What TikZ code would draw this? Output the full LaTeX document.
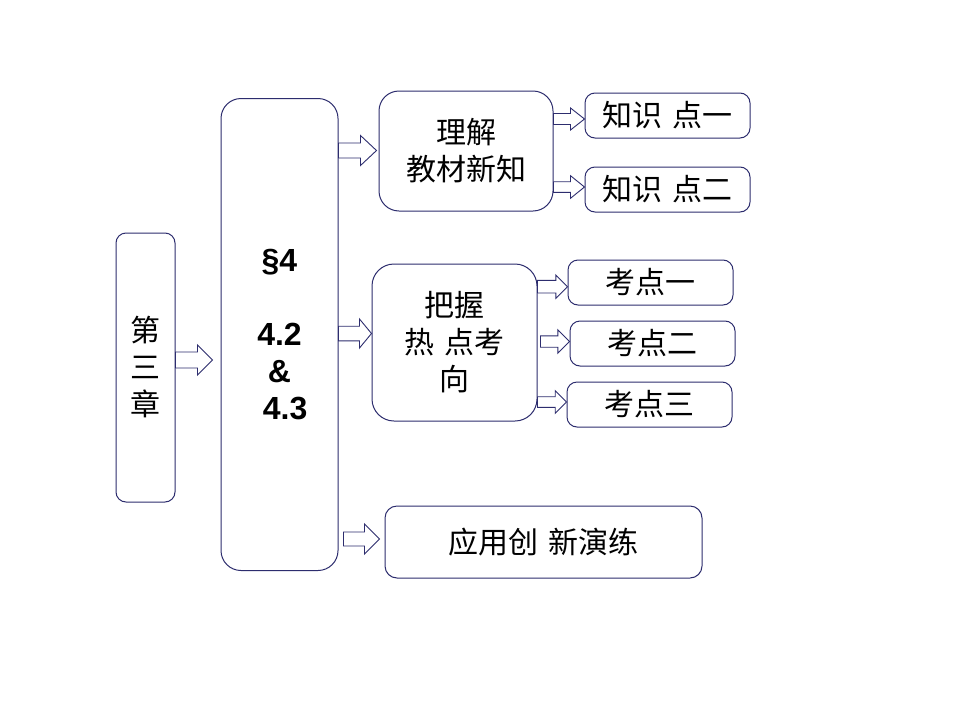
\documentclass[tikz,border=0pt]{standalone}
\usepackage{fontspec}
\setmainfont{Liberation Sans}
\newfontfamily\cjk{Noto Sans CJK SC}
\usetikzlibrary{calc}
\definecolor{navy}{RGB}{45,45,110}
\newcommand\cjkgap{\hspace{0.35em}}
\tikzset{
  box/.style={draw=navy, line width=1pt, inner sep=0pt, align=center, font=\cjk\fontsize{30}{37}\selectfont},
  harrowstyle/.style={draw=navy, line width=0.9pt, fill=white, line join=miter}
}
% start, tip, y centre (px), half shaft, half head, head length
\newcommand\harrow[6]{%
  \draw[harrowstyle] let \p1=#1, \p2=#2 in
   (\x1,{-(#3+#4)*1pt}) -- ({\x2-#6*1pt},{-(#3+#4)*1pt}) -- ({\x2-#6*1pt},{-(#3+#5)*1pt})
   -- (\x2,{-#3*1pt}) -- ({\x2-#6*1pt},{-(#3-#5)*1pt}) -- ({\x2-#6*1pt},{-(#3-#4)*1pt})
   -- (\x1,{-(#3-#4)*1pt}) -- cycle;}
\begin{document}
\begin{tikzpicture}[x=1pt,y=-1pt]
\useasboundingbox[fill=white] (0,0) rectangle (960,720);
% boxes
\node[box, rounded corners=10pt, minimum width=59pt, minimum height=269pt] (ch3) at (145.5,367.5) {第\\三\\章};
\node[box, rounded corners=20pt, minimum width=117pt, minimum height=472pt,
      font=\bfseries\fontsize{32}{37}\selectfont] (s4) at (279.5,334.5) {§4\\[37pt]4.2\\\&\\\hspace{0.35em}4.3};
\node[box, rounded corners=20pt, minimum width=174pt, minimum height=120pt] (li) at (466,151) {理解\\教材新知};
\node[box, rounded corners=10pt, minimum width=165pt, minimum height=45pt] (k1) at (667.5,115.5) {知识\cjkgap 点一};
\node[box, rounded corners=10pt, minimum width=165pt, minimum height=45pt] (k2) at (667.5,189.5) {知识\cjkgap 点二};
\node[box, rounded corners=22pt, minimum width=165pt, minimum height=157pt] (bw) at (454.5,342.5) {把握\\热\cjkgap 点考\\向};
\node[box, rounded corners=10pt, minimum width=165pt, minimum height=45pt] (d1) at (650.5,282.5) {考点一};
\node[box, rounded corners=10pt, minimum width=165pt, minimum height=45pt] (d2) at (652.5,343.5) {考点二};
\node[box, rounded corners=10pt, minimum width=165pt, minimum height=45pt] (d3) at (649.5,404.5) {考点三};
\node[box, rounded corners=12pt, minimum width=317pt, minimum height=72pt] (yy) at (543.5,542) {应用创\cjkgap 新演练};
% hollow block arrows
\harrow{(ch3.east)}{([xshift=-8pt]s4.west)}{360}{8}{15}{15}
\harrow{(s4.east)}{([xshift=-2pt]li.west)}{150.5}{7.5}{15}{16}
\harrow{(s4.east)}{(bw.west)}{333.5}{7.3}{14.5}{12}
\harrow{([xshift=5pt]s4.east)}{([xshift=-5pt]yy.west)}{539}{7}{15}{15}
\harrow{(li.east)}{(k1.west)}{119}{5.5}{11}{14}
\harrow{(li.east)}{(k2.west)}{187}{5.3}{11.3}{14}
\harrow{(bw.east)}{(d1.west)}{286.7}{6.3}{11.7}{11.7}
\harrow{([xshift=3pt]bw.east)}{(d2.west)}{341.5}{5.7}{11.7}{11.7}
\harrow{(bw.east)}{(d3.west)}{402}{5.3}{11.3}{11.3}
\end{tikzpicture}
\end{document}
